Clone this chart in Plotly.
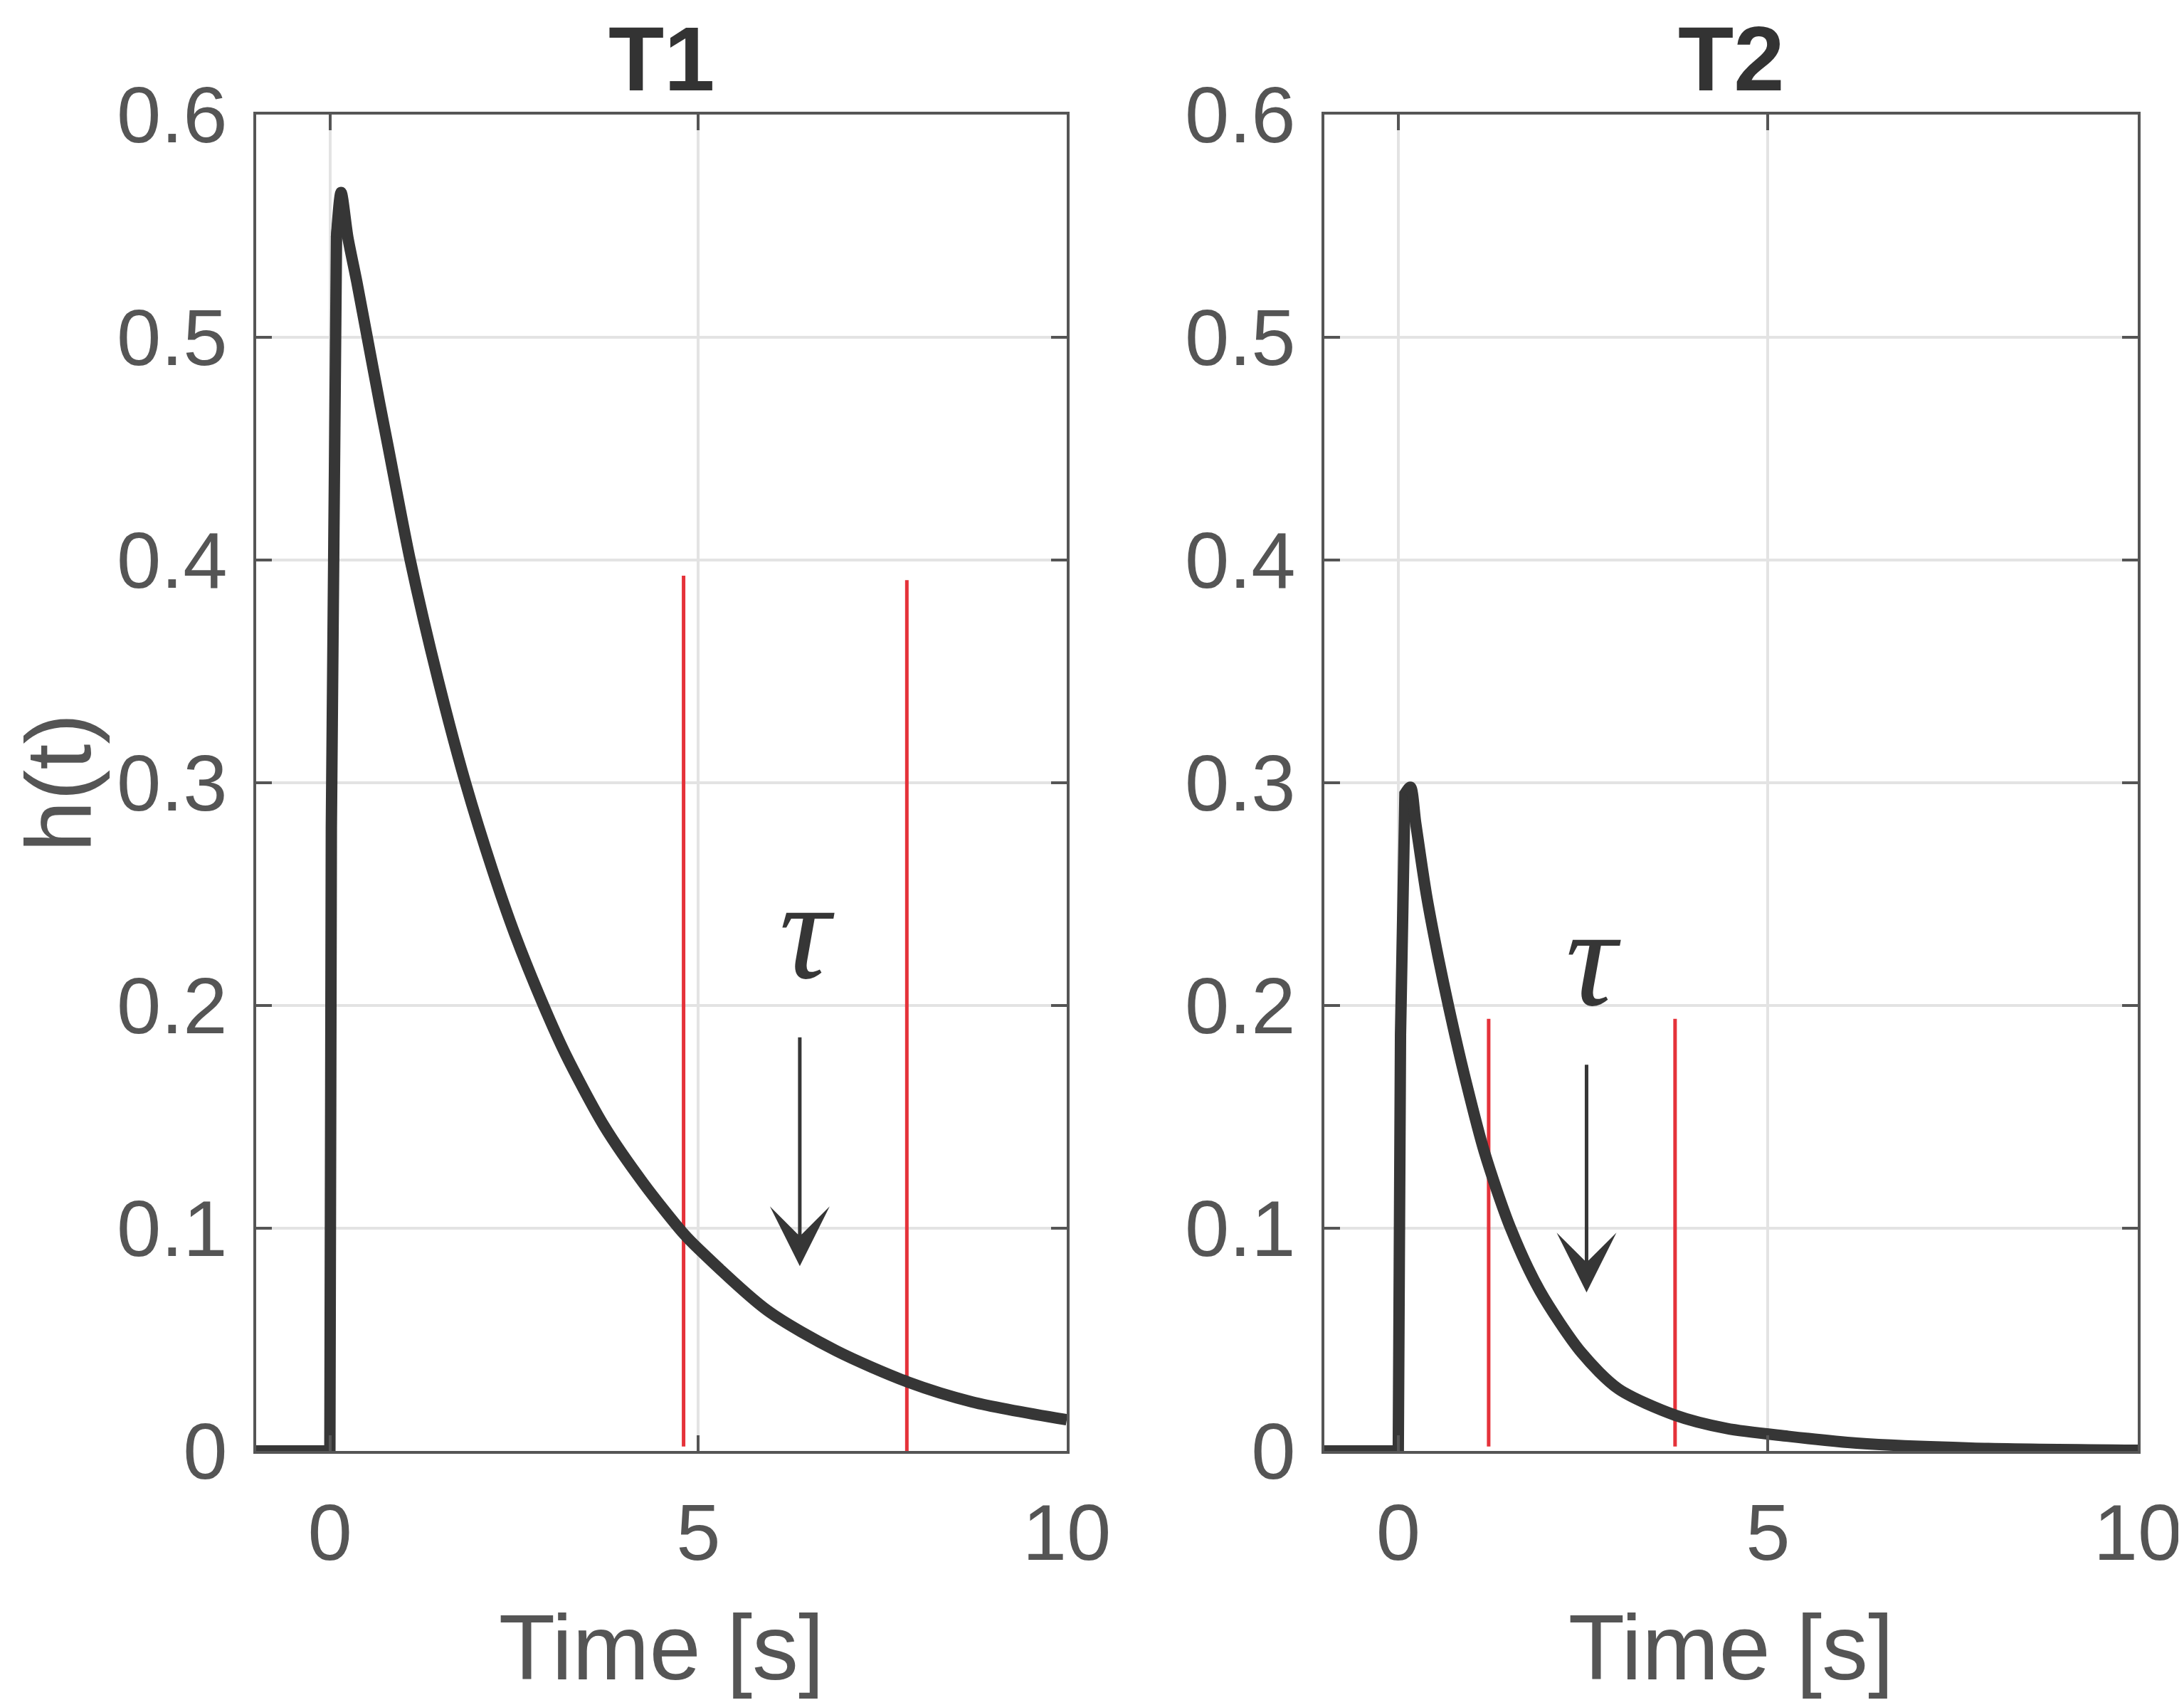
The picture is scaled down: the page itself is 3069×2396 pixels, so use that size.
import plotly.graph_objects as go

# T1 impulse response
t1_time = [-1, 0, 0.02, 0.065, 0.09, 0.152, 0.243, 0.365, 0.507, 0.678, 0.79, 1.09, 1.47,
           1.84, 2.21, 2.51, 2.9, 3.2, 3.72, 4.26, 4.8, 5.0, 5.94, 6.87, 7.84, 8.72, 10]
t1_h = [0, 0, 0.28, 0.5, 0.545, 0.565, 0.545, 0.525, 0.5, 0.47, 0.451, 0.4, 0.346,
        0.3, 0.2605, 0.232, 0.2, 0.178, 0.146, 0.12, 0.0976, 0.0908, 0.063, 0.045,
        0.031, 0.022, 0.014]

# T2 impulse response
t2_time = [-1, 0, 0.03, 0.055, 0.09, 0.164, 0.235, 0.379, 0.538, 0.684, 0.892, 1.164,
           1.519, 1.915, 2.478, 2.98, 3.74, 4.44, 5.27, 6.2, 7.75, 10]
t2_h = [0, 0, 0.187, 0.282, 0.295, 0.298, 0.282, 0.25, 0.222, 0.199, 0.169, 0.1343,
        0.1, 0.0719, 0.0441, 0.0278, 0.0161, 0.0101, 0.0066, 0.0035, 0.0013, 0.0003]

# red markers (time, bottom, top)
t1_marks = [4.80, 7.83]
t1_mark_bottom = [0.002, 0.0]
t1_mark_top = [0.393, 0.391]
t2_marks = [1.222, 3.743]
t2_mark_bottom = [0.002, 0.002]
t2_mark_top = [0.194, 0.194]

# tau label and arrow (label x, label y, arrow x, arrow from, arrow to)
tau1 = (6.475, 0.2257, 6.377, 0.1862, 0.083)
tau2 = (2.634, 0.2137, 2.546, 0.1739, 0.0712)

titles = ['T1', 'T2']
y_ticks = [0, 0.1, 0.2, 0.3, 0.4, 0.5, 0.6]
y_labels = ['0', '0.1', '0.2', '0.3', '0.4', '0.5', '0.6']
x_ticks = [0, 5, 10]

INK = '#363636'
GREY = '#555555'
RED = '#e5323a'
FONT = 'Liberation Sans'

fig = go.Figure()

panels = [
    (t1_time, t1_h, t1_marks, t1_mark_bottom, t1_mark_top, tau1, 'x', 'y'),
    (t2_time, t2_h, t2_marks, t2_mark_bottom, t2_mark_top, tau2, 'x2', 'y2'),
]

for tt, hh, marks, mb, mt, tau, xa, ya in panels:
    for m, b, top in zip(marks, mb, mt):
        fig.add_trace(go.Scatter(x=[m, m], y=[b, top], mode='lines',
                                 line=dict(color=RED, width=5),
                                 xaxis=xa, yaxis=ya, showlegend=False))
    # steep rise drawn straight, decay smoothed
    pk = hh.index(max(hh))
    fig.add_trace(go.Scatter(x=tt[:pk + 1], y=hh[:pk + 1], mode='lines',
                             line=dict(color=INK, width=16),
                             xaxis=xa, yaxis=ya, showlegend=False))
    fig.add_trace(go.Scatter(x=tt[pk - 1:], y=hh[pk - 1:], mode='lines',
                             line=dict(color=INK, width=16, shape='spline', smoothing=0.8),
                             xaxis=xa, yaxis=ya, showlegend=False))
    lx, ly, ax_, a_from, a_to = tau
    fig.add_annotation(x=lx, y=ly, xref=xa, yref=ya, yshift=26, text='<i>τ</i>',
                       showarrow=False,
                       font=dict(family='Liberation Serif', size=200, color=INK))
    fig.add_annotation(x=ax_, y=a_to, ax=ax_, ay=a_from, xref=xa, yref=ya,
                       axref=xa, ayref=ya, text='', showarrow=True,
                       arrowhead=3, arrowsize=2.8, arrowwidth=5, arrowcolor=INK)

axis_style = dict(showline=True, linecolor=GREY, linewidth=4, mirror='ticks',
                  ticks='inside', ticklen=22, tickwidth=4, tickcolor=GREY,
                  showgrid=True, gridcolor='#e3e3e3', gridwidth=4, zeroline=False,
                  tickfont=dict(family=FONT, size=112, color=GREY), automargin=False)

x_domains = [[0, 0.4308], [0.5677, 1]]
for i, name in enumerate(['xaxis', 'xaxis2']):
    fig.layout[name] = dict(axis_style, domain=x_domains[i], range=[-1, 10],
                            tickvals=x_ticks, anchor='y' if i == 0 else 'y2',
                            ticklabelstandoff=15,
                            title=dict(text='Time [s]', standoff=55,
                                       font=dict(family=FONT, size=130, color=GREY)))
for i, name in enumerate(['yaxis', 'yaxis2']):
    fig.layout[name] = dict(axis_style, domain=[0, 1], range=[0, 0.6],
                            tickvals=y_ticks, ticktext=y_labels, ticklabelstandoff=14,
                            anchor='x' if i == 0 else 'x2')

# y label placed by hand, left of the tick labels
fig.add_annotation(x=-0.105, y=0.5, xref='paper', yref='paper', xanchor='center',
                   yanchor='middle', textangle=-90, showarrow=False, text='h(t)',
                   font=dict(family=FONT, size=130, color=GREY))

for i, txt in enumerate(titles):
    fig.add_annotation(x=sum(x_domains[i]) / 2, y=1, xref='paper', yref='paper',
                       xanchor='center', yanchor='bottom', yshift=5, showarrow=False,
                       text='<b>' + txt + '</b>',
                       font=dict(family=FONT, size=128, color='#333333'))

fig.update_layout(width=3069, height=2396, plot_bgcolor='white', paper_bgcolor='white',
                  margin=dict(l=352, r=73, t=153, b=365))

fig.write_html('out.html')
